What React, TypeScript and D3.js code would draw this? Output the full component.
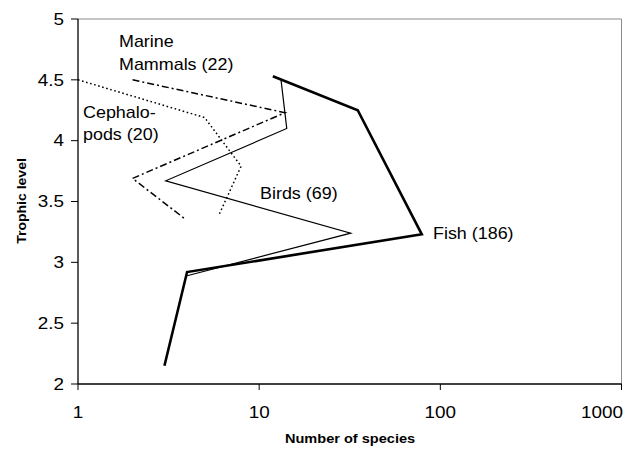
import React from "react";
import * as d3 from "d3";

const xTicks = [1, 10, 100, 1000];
const yTicks = [2, 2.5, 3, 3.5, 4, 4.5, 5];

const fishX = [11.9, 35, 79, 4.0, 3.0];
const fishY = [4.53, 4.25, 3.23, 2.92, 2.15];
const birdsX = [13.2, 14.2, 3.05, 32, 4.0];
const birdsY = [4.5, 4.1, 3.67, 3.24, 2.89];
const mammalsX = [2.0, 13.9, 2.0, 3.95];
const mammalsY = [4.5, 4.23, 3.69, 3.35];
const cephX = [1.0, 5.0, 7.95, 6.0];
const cephY = [4.5, 4.19, 3.79, 3.39];

const W = 637;
const H = 450;
const M = { left: 78, right: 621.5, top: 19, bottom: 384 };
const FONT = "'Liberation Sans', Arial, sans-serif";
const SX = 1.12;

function Txt({ x, y, children, anchor = "start", size = 16, weight = "normal", sx = SX, rotate = 0 }: any) {
  return (
    <text
      transform={`translate(${x},${y}) rotate(${rotate}) scale(${sx},1)`}
      textAnchor={anchor}
      fontSize={size}
      fontWeight={weight}
      fontFamily={FONT}
      fill="#000"
    >
      {children}
    </text>
  );
}

export default function App() {
  const x = d3.scaleLog().domain([1, 1000]).range([M.left, M.right]);
  const y = d3.scaleLinear().domain([2, 5]).range([M.bottom, M.top]);
  const line = d3
    .line<[number, number]>()
    .x((d) => x(d[0]))
    .y((d) => y(d[1]));
  const pts = (xs: number[], ys: number[]) => xs.map((v, i) => [v, ys[i]] as [number, number]);
  const lastX = xTicks[xTicks.length - 1];

  return (
    <svg width={W} height={H} style={{ position: "absolute", left: 0, top: 0, background: "#fff" }}>
      <rect x={0} y={0} width={W} height={H} fill="#fff" />
      {/* plot border top/right */}
      <line x1={M.left} x2={M.right} y1={M.top} y2={M.top} stroke="#8a8a8a" strokeWidth={1} />
      <line x1={M.right} x2={M.right} y1={M.top} y2={M.bottom} stroke="#8a8a8a" strokeWidth={1} />
      {/* axes */}
      <line x1={M.left} x2={M.left} y1={M.top} y2={M.bottom} stroke="#000" strokeWidth={1.3} />
      <line x1={M.left} x2={M.right} y1={M.bottom} y2={M.bottom} stroke="#000" strokeWidth={1.3} />
      {yTicks.map((t) => (
        <g key={"y" + t}>
          <line x1={M.left - 7} x2={M.left} y1={y(t)} y2={y(t)} stroke="#000" strokeWidth={1} />
          <Txt x={64} y={y(t) + 5.8} anchor="end" sx={1.18}>
            {String(t)}
          </Txt>
        </g>
      ))}
      {xTicks.map((t) => (
        <g key={"x" + t}>
          <line x1={x(t)} x2={x(t)} y1={M.bottom} y2={M.bottom + 6} stroke="#000" strokeWidth={1} />
          <Txt
            x={t === lastX ? x(t) + 1.5 : x(t)}
            y={418}
            anchor={t === lastX ? "end" : "middle"}
            sx={1.18}
          >
            {String(t)}
          </Txt>
        </g>
      ))}
      {/* axis titles */}
      <Txt x={350} y={443} anchor="middle" size={13} weight="bold">
        Number of species
      </Txt>
      <Txt x={26} y={201} anchor="middle" size={13} weight="bold" rotate={-90} sx={1.08}>
        Trophic level
      </Txt>
      {/* series */}
      <path d={line(pts(cephX, cephY)) || ""} fill="none" stroke="#000" strokeWidth={1.5} strokeDasharray="1.6,2.6" />
      <path d={line(pts(mammalsX, mammalsY)) || ""} fill="none" stroke="#000" strokeWidth={1.5} strokeDasharray="7,3,2,3" />
      <path d={line(pts(birdsX, birdsY)) || ""} fill="none" stroke="#000" strokeWidth={1.2} />
      <path d={line(pts(fishX, fishY)) || ""} fill="none" stroke="#000" strokeWidth={2.6} strokeLinejoin="miter" />
      {/* labels */}
      <Txt x={119} y={47}>Marine</Txt>
      <Txt x={119} y={70}>Mammals (22)</Txt>
      <Txt x={83} y={118}>Cephalo-</Txt>
      <Txt x={83} y={140}>pods (20)</Txt>
      <Txt x={260} y={199}>Birds (69)</Txt>
      <Txt x={433} y={239}>Fish (186)</Txt>
    </svg>
  );
}
